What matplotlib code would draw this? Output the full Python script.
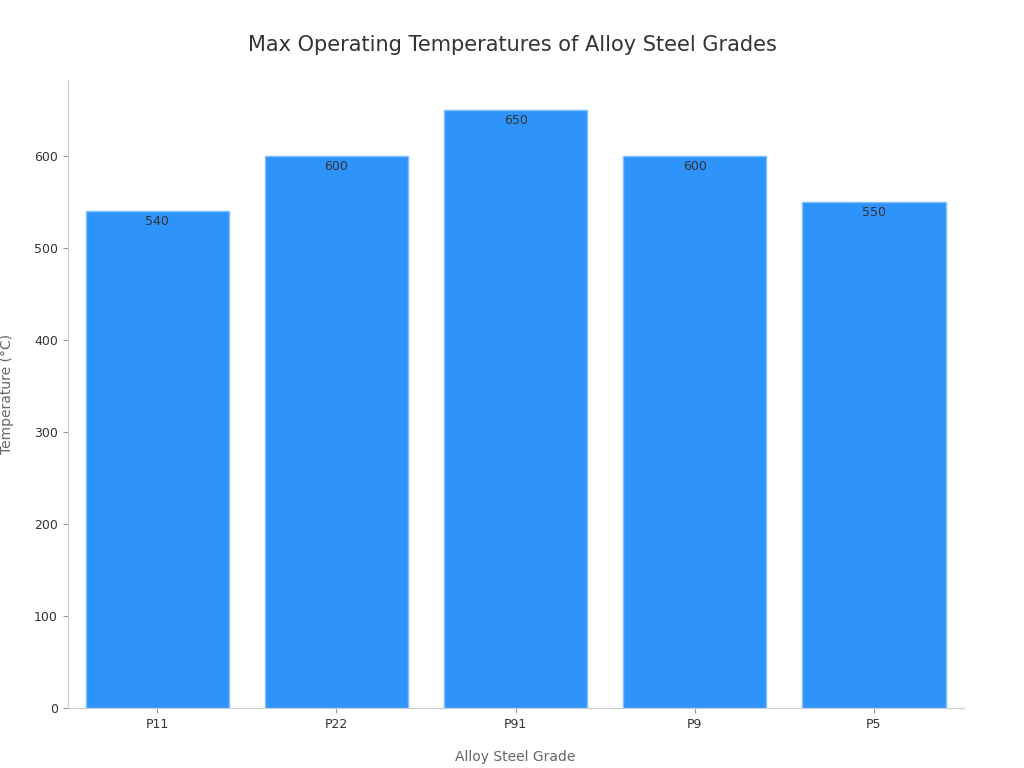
import matplotlib
matplotlib.use("Agg")
import matplotlib.pyplot as plt

grades = ["P11", "P22", "P91", "P9", "P5"]
temps = [540, 600, 650, 600, 550]

fig = plt.figure(figsize=(10.24, 7.68), dpi=100)
ax = fig.add_axes([0.066, 0.078, 0.875, 0.818])
bars = ax.bar(grades, temps, width=0.8, color="#2E93FA", edgecolor="#7FBFFF", linewidth=1)
for b, v in zip(bars, temps):
    ax.text(b.get_x() + b.get_width()/2, v - 4, str(v), ha="center", va="top", fontsize=9, color="#333333")
ax.set_xlim(-0.5, 4.5)
ax.set_ylim(0, 683)
ax.set_yticks([0, 100, 200, 300, 400, 500, 600])
for s in ["top", "right"]:
    ax.spines[s].set_visible(False)
for s in ["left", "bottom"]:
    ax.spines[s].set_color("#CCCCCC")
ax.tick_params(colors="#333333", labelsize=9)
ax.tick_params(axis="both", color="#999999")
ax.set_xlabel("Alloy Steel Grade", fontsize=10, color="#666666", labelpad=14)
ax.set_ylabel("Temperature (°C)", fontsize=10, color="#666666", labelpad=14)
fig.suptitle("Max Operating Temperatures of Alloy Steel Grades", fontsize=15, color="#333333", y=0.955)
fig.savefig("out.png", dpi=100)
